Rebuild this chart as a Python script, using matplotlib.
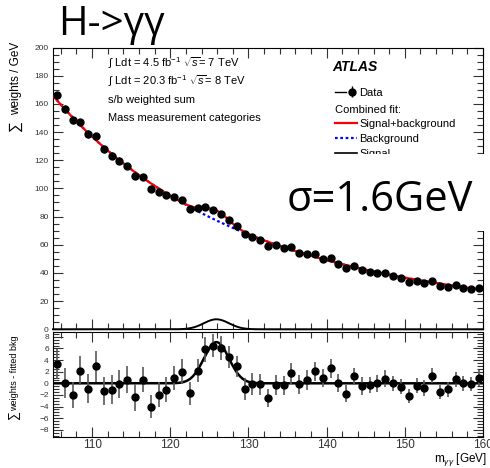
import numpy as np
import matplotlib
matplotlib.use("Agg")
import matplotlib.pyplot as plt
from matplotlib.patches import Rectangle
from matplotlib.lines import Line2D
from matplotlib.legend_handler import HandlerTuple
from matplotlib.ticker import MultipleLocator

plt.rcParams["font.family"] = ["Liberation Sans", "DejaVu Sans"]
plt.rcParams["mathtext.fontset"] = "custom"
plt.rcParams["mathtext.rm"] = "Liberation Sans"
plt.rcParams["mathtext.it"] = "Liberation Sans:italic"

# 1 GeV bins from 105 to 160
mass = np.arange(105.5, 160.0, 1.0)

# s/b weighted sum per GeV
data = [166.0, 156.4, 148.3, 146.9, 138.6, 136.9, 127.9, 123.1, 119.6, 116.0,
        109.1, 108.2, 99.4, 97.7, 95.4, 94.0, 91.7, 85.2, 85.8, 86.9,
        84.8, 81.9, 77.7, 73.5, 67.5, 65.8, 63.4, 59.1, 59.7, 57.6,
        58.2, 54.3, 53.3, 53.4, 50.0, 50.7, 46.5, 43.2, 45.1, 42.2,
        41.0, 39.9, 39.9, 37.7, 36.1, 33.5, 34.6, 33.0, 34.4, 30.4,
        30.1, 31.1, 29.4, 28.5, 29.2]

# data minus fitted background
resid = [3.3, 0.0, -2.0, 2.2, -0.9, 2.9, -1.3, -1.1, -0.1, 0.6,
         -2.4, 0.6, -4.0, -2.0, -1.1, 0.9, 2.0, -1.7, 2.2, 5.9,
         6.5, 6.1, 4.5, 2.9, -1.0, -0.1, -0.2, -2.5, -0.3, -0.3,
         1.7, -0.2, 0.6, 2.1, 0.9, 2.6, 0.1, -1.8, 1.2, -0.5,
         -0.3, 0.0, 0.8, 0.0, -0.6, -2.2, -0.4, -0.8, 1.3, -1.5,
         -1.0, 0.7, 0.0, -0.1, 0.9]

err = [2.6, 2.6, 2.3, 2.45, 2.5, 2.6, 2.45, 2.45, 2.45, 2.3,
       2.3, 2.15, 2.0, 2.15, 2.15, 2.07, 2.2, 2.0, 2.0, 2.15,
       2.0, 2.07, 1.93, 1.87, 1.87, 1.87, 1.8, 1.55, 1.73, 1.64,
       1.8, 1.64, 1.67, 1.64, 1.5, 1.64, 1.58, 1.47, 1.5, 1.53,
       1.44, 1.44, 1.5, 1.32, 1.27, 1.27, 1.24, 1.32, 1.3, 1.24,
       1.3, 1.3, 1.27, 1.24, 1.32]

# combined fit: exp(poly2) background + gaussian signal
bkg_pars = [5.091, -0.039, 0.000124]   # ln B = p0 + p1*t + p2*t^2, t = m - 105.5
m_higgs = 125.9
sigma = 1.6
sig_amp = 7.1

m = np.linspace(105, 160, 500)
t = m - 105.5
bkg = np.exp(bkg_pars[0] + bkg_pars[1] * t + bkg_pars[2] * t ** 2)
sig = sig_amp * np.exp(-0.5 * ((m - m_higgs) / sigma) ** 2)

fig = plt.figure(figsize=(4.9, 4.68), dpi=100)
ax = fig.add_axes([0.1082, 0.2964, 0.8776, 0.6021])
axr = fig.add_axes([0.1082, 0.0669, 0.8776, 0.2244], sharex=ax)

# top panel
ax.plot(m, bkg, color="blue", lw=1.6, ls=(0, (1.2, 1.2)), zorder=2)
ax.plot(m, bkg + sig, color="red", lw=1.6, zorder=3)
ax.plot(m, sig, color="black", lw=1.4, zorder=3, clip_on=False)
eb = ax.errorbar(mass, data, yerr=err, fmt="o", color="black", ms=5,
                 elinewidth=1.0, capsize=0, zorder=4)
ax.set_xlim(105, 160)
ax.set_ylim(0, 200)

# residual panel
axr.plot(m, sig, color="black", lw=1.8, zorder=2)
axr.errorbar(mass, resid, yerr=err, fmt="o", mfc="black", mec="black",
             ecolor="0.35", ms=5, elinewidth=1.2, capsize=0, zorder=3)
axr.set_ylim(-9.2, 8.9)

for a in (ax, axr):
    a.tick_params(which="both", direction="in", top=True, right=True,
                  colors="0.2", width=0.8)
    a.tick_params(which="major", length=7)
    a.tick_params(which="minor", length=4)
    a.xaxis.set_major_locator(MultipleLocator(10))
    a.xaxis.set_minor_locator(MultipleLocator(2))
    for s in a.spines.values():
        s.set_linewidth(0.8)

ax.yaxis.set_major_locator(MultipleLocator(20))
ax.yaxis.set_minor_locator(MultipleLocator(5))
ax.tick_params(labelbottom=False, labelsize=6, pad=3)
axr.yaxis.set_major_locator(MultipleLocator(2))
axr.yaxis.set_minor_locator(MultipleLocator(0.5))
axr.tick_params(axis="y", labelsize=6, pad=3)
axr.tick_params(axis="x", labelsize=8.5, pad=1.5)

# axis titles, with a large sum sign as ROOT draws it
fig.text(16 / 490, 1 - 42 / 468, "weights / GeV", rotation=90,
         ha="center", va="top", fontsize=8.5)
fig.text(15 / 490, 1 - 126 / 468, "∑", rotation=90,
         ha="center", va="center", fontsize=11)
fig.text(15 / 490, 1 - 335 / 468, "weights - fitted bkg", rotation=90,
         ha="center", va="top", fontsize=6.5)
fig.text(14 / 490, 1 - 416 / 468, "∑", rotation=90,
         ha="center", va="center", fontsize=9)
fig.text(487 / 490, 1 - 462 / 468, r"m$_{\gamma\gamma}$ [GeV]",
         ha="right", va="baseline", fontsize=8.5)

# labels inside the main panel
info = [r"$\int$ Ldt = 4.5 fb$^{-1}$ $\sqrt{s}$= 7 TeV",
        r"$\int$ Ldt = 20.3 fb$^{-1}$ $\sqrt{s}$= 8 TeV",
        "s/b weighted sum",
        "Mass measurement categories"]
for i, s in enumerate(info):
    ax.text(0.128, 0.945 - i * 0.065, s, transform=ax.transAxes,
            fontsize=8, va="center", ha="left")

ax.text(0.649, 0.931, "ATLAS", transform=ax.transAxes, fontsize=10,
        fontweight="bold", fontstyle="italic", va="center", ha="left")

hline = Line2D([], [], color="black", lw=1.0)
leg1 = ax.legend([(hline, eb)], ["Data"], handler_map={tuple: HandlerTuple(ndivide=None)},
                 loc="upper left", bbox_to_anchor=(0.656, 0.857), frameon=False,
                 fontsize=8, borderpad=0, borderaxespad=0, handlelength=2.0,
                 handletextpad=0.2)
ax.add_artist(leg1)
fit_handles = [Line2D([], [], color="red", lw=1.6),
               Line2D([], [], color="blue", lw=1.6, ls=(0, (1.2, 1.2))),
               Line2D([], [], color="black", lw=1.2)]
ax.legend(fit_handles, ["Signal+background", "Background", "Signal"],
          title="Combined fit:", title_fontsize=8, alignment="left",
          loc="upper left", bbox_to_anchor=(0.656, 0.797), frameon=False,
          fontsize=8, borderpad=0, borderaxespad=0, handlelength=2.0,
          handletextpad=0.2, labelspacing=0.42)

# white panel carrying the resolution note
fig.add_artist(Rectangle((250 / 490, 1 - 231 / 468), 240 / 490, 77 / 468,
                         transform=fig.transFigure, facecolor="white",
                         edgecolor="none", zorder=5))
fig.text(287 / 490, 1 - 211 / 468, "σ=1.6GeV", fontsize=30,
         family=["Open Sans", "DejaVu Sans"], va="baseline", ha="left", zorder=6)
fig.text(58 / 490, 1 - 35 / 468, "H->γγ", fontsize=29,
         family=["Open Sans", "DejaVu Sans"], va="baseline", ha="left")

fig.savefig("out.png", dpi=100)
